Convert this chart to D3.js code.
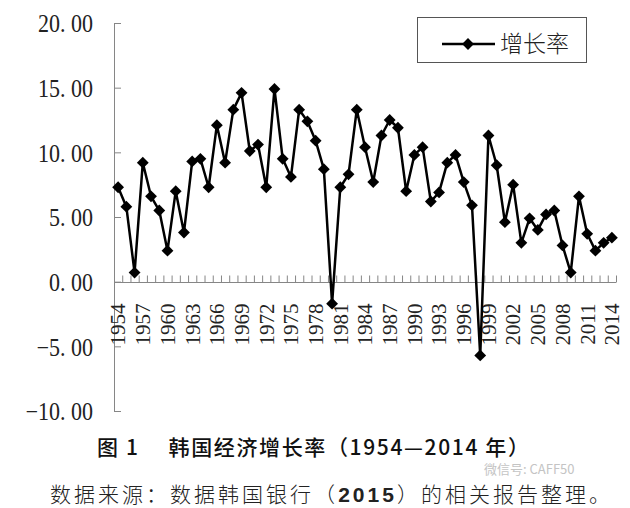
<!DOCTYPE html>
<html><head><meta charset="utf-8">
<script src="https://cdn.jsdelivr.net/npm/d3@7"></script>
<style>
html,body{margin:0;padding:0;background:#fff;}
svg{display:block;}
</style></head>
<body>
<script>
const years = d3.range(1954, 2015);
const growth = [7.3,5.8,0.7,9.2,6.6,5.5,2.4,7.0,3.8,9.3,
  9.5,7.3,12.1,9.2,13.3,14.6,10.1,10.6,7.3,14.9,
  9.5,8.1,13.3,12.4,10.9,8.7,-1.7,7.3,8.3,13.3,
  10.4,7.7,11.3,12.5,11.9,7.0,9.8,10.4,6.2,6.9,
  9.2,9.8,7.7,5.9,-5.7,11.3,9.0,4.6,7.5,3.0,
  4.9,4.0,5.2,5.5,2.8,0.7,6.6,3.7,2.4,3.0,3.4];
const yTicks = [-10,-5,0,5,10,15,20];
const labelYears = years.filter((d,i)=> i%3===0);
const seriesName = "增长率";
const captionText = "图 1\u2003 韩国经济增长率（1954—2014 年）";

(function(){
const W=630,H=508;
const svg=d3.select("body").append("svg").attr("width",W).attr("height",H);
const pl=114,pr=616,pt=23,pb=411;
const x=d3.scaleBand().domain(years).range([pl,pr]);
const xi=d3.scaleLinear().domain([0,years.length]).range([pl,pr]);
const y=d3.scaleLinear().domain([-10,20]).range([pb,pt]);
const axisCol="#868686";

// Y axis
const ya=svg.append("g").attr("transform",`translate(${pl},0)`)
 .call(d3.axisLeft(y).tickValues(yTicks).tickSize(-7).tickPadding(21)
   .tickFormat(v=>(v<0?"\u2212":"")+Math.abs(v).toFixed(2).replace(".",".\u00a0")));
ya.selectAll("path,line").attr("stroke",axisCol).attr("stroke-width",1);
ya.select(".domain").attr("d",`M0.5,${pt}V${pb}`);
ya.selectAll("text").attr("font-family","'Liberation Serif',serif").attr("font-size",22)
  .attr("fill","#222").attr("dy","0.36em").attr("transform","scale(1,1.12)");

// X axis ticks (between categories)
const zeroY=Math.round(y(0))+0.5;
const xt=svg.append("g").attr("transform",`translate(0,${zeroY})`)
 .call(d3.axisBottom(xi).tickValues(d3.range(years.length+1)).tickSize(-7).tickFormat(""));
xt.selectAll("path,line").attr("stroke",axisCol).attr("stroke-width",1);
xt.select(".domain").attr("d",`M${pl},0H${pr}`);

// X labels
const xl=svg.append("g").attr("transform",`translate(0,${zeroY})`)
 .call(d3.axisBottom(x).tickValues(labelYears).tickSize(0).tickPadding(0));
xl.select(".domain").remove();
xl.selectAll("text").attr("font-family","'Liberation Serif',serif").attr("font-size",21)
  .attr("fill","#222").attr("text-anchor","end")
  .attr("transform","translate(0,21) rotate(-90)").attr("x",0).attr("y",0).attr("dy","0.35em");

// Line
const pts=years.map((yr,i)=>[x(yr)+x.bandwidth()/2,y(growth[i])]);
svg.append("path").attr("d",d3.line()(pts)).attr("fill","none").attr("stroke","#000").attr("stroke-width",2.5).attr("stroke-linejoin","round");
const marker=d3.symbol().type(d3.symbolSquare).size(70);
svg.append("g").selectAll("path").data(pts).join("path")
 .attr("transform",d=>`translate(${d[0]},${d[1]}) rotate(45)`)
 .attr("d",marker).attr("fill","#000");

// Legend
const lg=svg.append("g");
lg.append("rect").attr("x",417.5).attr("y",17.5).attr("width",169).attr("height",45)
  .attr("fill","#fff").attr("stroke","#555").attr("stroke-width",1);
lg.append("line").attr("x1",442).attr("x2",495).attr("y1",44).attr("y2",44).attr("stroke","#000").attr("stroke-width",2.5);
lg.append("path").attr("transform","translate(468,44) rotate(45)").attr("d",marker).attr("fill","#000");
lg.append("text").attr("x",500).attr("y",44).attr("dy","0.36em").text(seriesName)
  .attr("font-family","'Noto Sans CJK SC'").attr("font-weight",300).attr("font-size",23).attr("fill","#222");

// Caption
svg.append("text").attr("x",97).attr("y",447).attr("dy","0.36em").text(captionText)
  .attr("font-family","'Noto Sans CJK SC'").attr("font-weight",500).attr("font-size",21).attr("fill","#111")
  .attr("textLength",432).attr("lengthAdjust","spacing");

// Watermark
svg.append("text").attr("x",484).attr("y",469).attr("dy","0.36em").text("微信号: CAFF50")
  .attr("font-family","'Noto Sans CJK SC'").attr("font-size",13).attr("fill","#c4c4c4");

// Source
const src=svg.append("text").attr("x",50).attr("y",494).attr("dy","0.36em")
  .attr("font-family","'Noto Sans CJK SC'").attr("font-weight",300).attr("font-size",21).attr("fill","#222")
  .attr("textLength",560).attr("lengthAdjust","spacing");
src.append("tspan").text("数据来源：数据韩国银行（");
src.append("tspan").text("2015").attr("font-family","'Liberation Sans'").attr("font-weight",700);
src.append("tspan").text("）的相关报告整理。");
})();
</script>
</body></html>
